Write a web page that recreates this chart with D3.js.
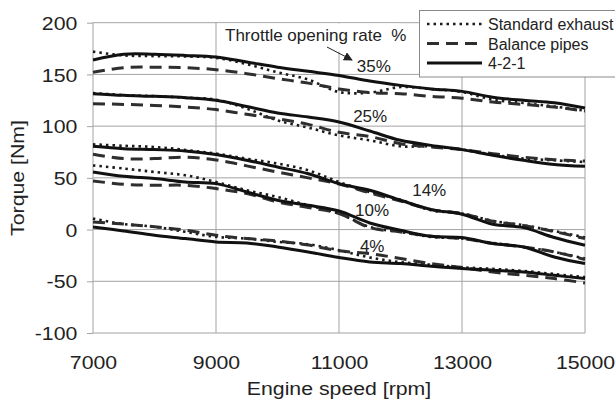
<!DOCTYPE html>
<html>
<head>
<meta charset="utf-8">
<script src="https://cdn.jsdelivr.net/npm/d3@7"></script>
<style>
  body { margin: 0; background: #fff; }
  svg { display: block; font-family: "Liberation Sans", Arial, sans-serif; }
</style>
</head>
<body>
<svg id="chart" width="615" height="399"></svg>
<script>
// engine speed samples [rpm]
const rpm = [7000, 7500, 8000, 8500, 9000, 9500, 10000, 10500, 11000,
  11500, 12000, 12500, 13000, 13500, 14000, 14500, 15000];

// torque [Nm]
const standard35 = [172, 168.4, 167.7, 167.4, 166, 160, 152, 145, 133, 132.4, 137.8, 135.8, 133, 125.6, 122.3, 119, 115];
const balance35 = [152, 156.5, 157, 156.5, 154.6, 150.7, 146, 141.6, 136, 132.4, 131.4, 128.8, 127, 123.3, 121, 118.5, 114.6];
const header35 = [164, 169.5, 169.5, 168.4, 166.8, 162, 157, 153, 149, 143.6, 139.4, 136, 133.6, 128, 125, 122.7, 117.5];

const standard25 = [132, 130, 129, 127.5, 125.6, 116.9, 105.6, 98.5, 91, 86.3, 80.5, 80.5, 77.3, 72.5, 68.6, 67, 65.3];
const balance25 = [121.7, 121, 120, 118.5, 116, 111.4, 107.2, 101.7, 94, 90, 83, 79.8, 77.3, 73.4, 70, 67.6, 66.3];
const header25 = [131.4, 129.8, 128.8, 127.5, 125, 119, 112.7, 108.8, 104, 95.3, 86.3, 81.4, 77.3, 71.8, 67, 63, 61.2];

const standard14 = [82.4, 81, 79.8, 77, 73.4, 68.5, 63.8, 57.3, 46, 36.3, 28.8, 18.6, 15.5, 8.4, 4.2, -1.3, -7.7];
const balance14 = [72.8, 68.6, 68.6, 70, 67.3, 61.6, 55.6, 50, 44, 35.5, 27.6, 19.3, 15.5, 8.1, 3.9, -1.9, -8.7];
const header14 = [80.5, 78.2, 77.3, 76, 72.5, 67, 60.5, 54, 44.4, 38, 28.3, 19.3, 14.8, 5.1, 1.9, -7.7, -15.2];

const standard10 = [62, 59, 55.7, 52.5, 46, 38, 31.5, 23.5, 15.5, 2.5, -2.3, -7.1, -8.7, -12.9, -16.8, -21.6, -28];
const balance10 = [47, 43.8, 42.8, 42.8, 39.6, 34.8, 26.7, 21.3, 15.5, 1.9, -2.3, -6.5, -8.7, -13.5, -16.8, -21.6, -29];
const header10 = [55.7, 51.5, 49.3, 46, 44.4, 36.3, 28.3, 23.5, 18, 6.4, -0.7, -6.5, -7.7, -13.5, -16.8, -26.5, -32.9];

const standard4 = [10.6, 5.3, 2.7, -2.2, -7.1, -8.7, -11.9, -14.2, -20, -27, -31.5, -34, -36.5, -38, -40, -43, -46];
const balance4 = [7.4, 5.3, 2.7, -0.6, -5.5, -8.7, -11, -15, -20.5, -23.2, -28, -32.9, -36.7, -41, -44.2, -47.4, -51.6];
const header4 = [2.5, -1.3, -5.5, -8.7, -12, -12.9, -16.8, -21.6, -27, -31.3, -32.9, -35.5, -37.7, -39.3, -41, -44.2, -47.4];

// throttle labels and where they sit (rpm, torque of text baseline)
const throttleLabels = ['35%', '25%', '14%', '10%', '4%'];
const labelRpm = [11290, 11230, 12190, 11260, 11340];
const labelTorque = [152.4, 104, 32.5, 13.1, -21.7];

const xTicks = [7000, 9000, 11000, 13000, 15000];
const yTicks = [-100, -50, 0, 50, 100, 150, 200];
const legendNames = ['Standard exhaust', 'Balance pipes', '4-2-1'];

const styles = [
  { color: '#1a1a1a', width: 2.6, dash: '2.5,4' },
  { color: '#2e2e2e', width: 3, dash: '12,7' },
  { color: '#111', width: 3, dash: null }
];

const series = [
  [standard35, standard25, standard14, standard10, standard4],
  [balance35, balance25, balance14, balance10, balance4],
  [header35, header25, header14, header10, header4]
];

const margin = { top: 22.7, right: 30, bottom: 66, left: 93 };
const width = 615 - margin.left - margin.right;
const height = 399 - margin.top - margin.bottom;
const grid = '#a3a3a3';
const stretch = 1.15;
const font = '"Liberation Sans", Arial, sans-serif';

const svg = d3.select('#chart');
const g = svg.append('g')
  .attr('transform', 'translate(' + margin.left + ',' + margin.top + ')');

const x = d3.scaleLinear().domain([7000, 15000]).range([0, width]);
const y = d3.scaleLinear().domain([-100, 200]).range([height, 0]);

// grid
g.append('g').selectAll('line').data(yTicks).enter().append('line')
  .attr('x1', 0).attr('x2', width)
  .attr('y1', d => y(d)).attr('y2', d => y(d))
  .attr('stroke', grid).attr('stroke-width', 1);
g.append('g').selectAll('line').data(xTicks).enter().append('line')
  .attr('x1', d => x(d)).attr('x2', d => x(d))
  .attr('y1', 0).attr('y2', height)
  .attr('stroke', grid).attr('stroke-width', 1);

// axes (labels are a bit wider than the font, as in the figure)
const yAxis = g.append('g')
  .call(d3.axisLeft(y).tickValues(yTicks).tickSize(6).tickFormat(d => String(d)));
yAxis.select('.domain').remove();
yAxis.selectAll('line').attr('stroke', grid);
yAxis.selectAll('text')
  .attr('font-size', 18.5).attr('fill', '#222').attr('font-family', font)
  .attr('x', -15.7 / stretch).attr('dy', '0.36em')
  .attr('transform', 'scale(' + stretch + ',1)');

const xAxis = g.append('g')
  .attr('transform', 'translate(0,' + height + ')')
  .call(d3.axisBottom(x).tickValues(xTicks).tickSize(0).tickFormat(d => String(d)));
xAxis.select('.domain').remove();
xAxis.selectAll('text')
  .attr('font-size', 18.5).attr('fill', '#222').attr('font-family', font)
  .attr('y', 36).attr('dy', 0)
  .attr('transform', 'scale(' + stretch + ',1)');

svg.append('text')
  .attr('transform', 'translate(' + (margin.left + width / 2) + ',395) scale(' + stretch + ',1)')
  .attr('text-anchor', 'middle').attr('font-size', 18.5).attr('fill', '#222')
  .text('Engine speed [rpm]');

svg.append('text')
  .attr('transform', 'translate(23.5,178) rotate(-90) scale(' + stretch + ',1)')
  .attr('text-anchor', 'middle').attr('font-size', 18.5).attr('fill', '#222')
  .text('Torque [Nm]');

// curves
const line = d3.line()
  .x((d, i) => x(rpm[i]))
  .y(d => y(d))
  .curve(d3.curveCatmullRom.alpha(0.5));

series.forEach((groups, s) => {
  groups.forEach(vals => {
    g.append('path')
      .attr('d', line(vals))
      .attr('fill', 'none')
      .attr('stroke', styles[s].color)
      .attr('stroke-width', styles[s].width)
      .attr('stroke-dasharray', styles[s].dash);
  });
});

// throttle labels
g.append('g').selectAll('text').data(throttleLabels).enter().append('text')
  .attr('x', (d, i) => x(labelRpm[i]))
  .attr('y', (d, i) => y(labelTorque[i]))
  .attr('font-size', 17).attr('fill', '#222')
  .text(d => d);

// annotation
svg.append('rect')
  .attr('x', 217.5).attr('y', 23.5).attr('width', 182).attr('height', 28)
  .attr('fill', '#fff');
svg.append('text')
  .attr('x', 225).attr('y', 40.7)
  .attr('font-size', 17).attr('fill', '#222')
  .attr('xml:space', 'preserve')
  .text('Throttle opening rate  %');
svg.append('defs').append('marker')
  .attr('id', 'arrow').attr('viewBox', '0 0 10 10')
  .attr('refX', 9).attr('refY', 5)
  .attr('markerWidth', 9).attr('markerHeight', 9)
  .attr('markerUnits', 'userSpaceOnUse')
  .attr('orient', 'auto')
  .append('path').attr('d', 'M0,0 L10,5 L0,10 Z').attr('fill', '#222');
svg.append('line')
  .attr('x1', 327).attr('y1', 47).attr('x2', 352).attr('y2', 60)
  .attr('stroke', '#222').attr('stroke-width', 1)
  .attr('marker-end', 'url(#arrow)');

// legend
const legend = svg.append('g').attr('transform', 'translate(419.5,10.5)');
legend.append('rect')
  .attr('width', 210).attr('height', 66.5)
  .attr('fill', '#fff').attr('stroke', '#8a8a8a').attr('stroke-width', 1);
legendNames.forEach((name, i) => {
  const ly = 13.5 + i * 19.5;
  legend.append('line')
    .attr('x1', 7.5).attr('x2', 62.5).attr('y1', ly).attr('y2', ly)
    .attr('stroke', styles[i].color)
    .attr('stroke-width', styles[i].width)
    .attr('stroke-dasharray', styles[i].dash);
  legend.append('text')
    .attr('x', 68.5).attr('y', ly + 6)
    .attr('font-size', 16).attr('fill', '#222')
    .text(name);
});
</script>
</body>
</html>
